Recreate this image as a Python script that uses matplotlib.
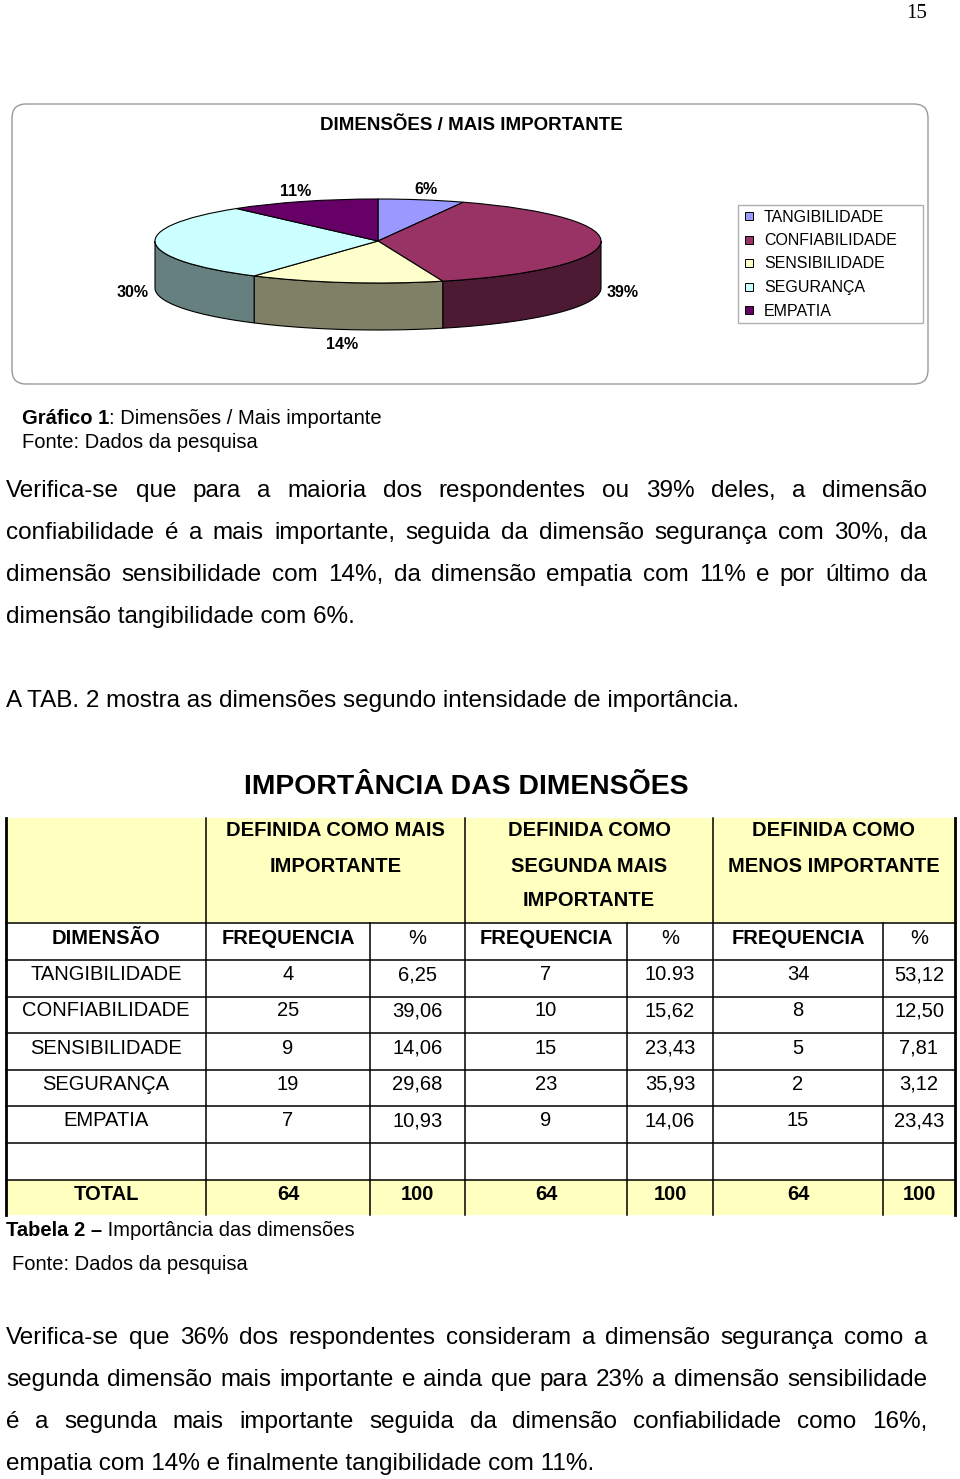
import numpy as np
import matplotlib
matplotlib.use('Agg')
import matplotlib.pyplot as plt
from matplotlib.patches import Rectangle, FancyBboxPatch, Polygon

plt.rcParams['font.family'] = ['Liberation Sans', 'DejaVu Sans']

# ---- data ----
dims = ['TANGIBILIDADE', 'CONFIABILIDADE', 'SENSIBILIDADE', 'SEGURANÇA', 'EMPATIA']
freq_mais = [4, 25, 9, 19, 7]
pct_mais = ['6,25', '39,06', '14,06', '29,68', '10,93']
freq_segunda = [7, 10, 15, 23, 9]
pct_segunda = ['10.93', '15,62', '23,43', '35,93', '14,06']
freq_menos = [34, 8, 5, 2, 15]
pct_menos = ['53,12', '12,50', '7,81', '3,12', '23,43']
totals = ['64', '100', '64', '100', '64', '100']

pie_colors = ['#9999FF', '#993366', '#FFFFCC', '#CCFFFF', '#660066']

par1 = [
    "Verifica-se que para a maioria dos respondentes ou 39% deles, a dimensão",
    "confiabilidade é a mais importante, seguida da dimensão segurança com 30%, da",
    "dimensão sensibilidade com 14%, da dimensão empatia com 11% e por último da",
    "dimensão tangibilidade com 6%.",
]
par2 = [
    "Verifica-se que 36% dos respondentes consideram a dimensão segurança como a",
    "segunda dimensão mais importante e ainda que para 23% a dimensão sensibilidade",
    "é a segunda mais importante seguida da dimensão confiabilidade como 16%,",
    "empatia com 14% e finalmente tangibilidade com 11%.",
]

W, H = 960, 1479
DY = 2  # va='center' sits a little high for caps, nudge down
fig = plt.figure(figsize=(W / 100, H / 100), dpi=100)
ax = fig.add_axes([0, 0, 1, 1])
ax.set_xlim(0, W)
ax.set_ylim(H, 0)
ax.axis('off')
renderer = fig.canvas.get_renderer()


def T(x, y, s, **kw):
    kw.setdefault('va', 'center')
    return ax.text(x, y + DY, s, **kw)


def text_w(s, **kw):
    t = ax.text(0, 0, s, **kw)
    w = t.get_window_extent(renderer).width
    t.remove()
    return w


def justify(lines, y0, step, x0=6, x1=927, fs=17.5):
    for i, line in enumerate(lines):
        y = y0 + i * step
        words = line.split()
        if i == len(lines) - 1:
            T(x0, y, line, fontsize=fs, ha='left')
            continue
        ws = [text_w(w, fontsize=fs) for w in words]
        gap = (x1 - x0 - sum(ws)) / (len(words) - 1)
        x = x0
        for w, wd in zip(words, ws):
            T(x, y, w, fontsize=fs, ha='left')
            x += wd + gap


def mixed(x, y, bold, rest, fs=14.5):
    T(x, y, bold, fontsize=fs, fontweight='bold', ha='left')
    T(x + text_w(bold, fontsize=fs, fontweight='bold'), y, rest, fontsize=fs, ha='left')


# page number
T(927, 11, '15', fontsize=15, family='Liberation Serif', ha='right')

# ---- chart box ----
ax.add_patch(FancyBboxPatch((12, 104), 916, 280, boxstyle='round,pad=0,rounding_size=14',
                            fc='white', ec='#9a9a9a', lw=1))
T(471, 123, 'DIMENSÕES / MAIS IMPORTANTE', fontsize=13.5, fontweight='bold', ha='center')

# ---- 3D-looking pie ----
cx, cy, a, b = 378, 241, 223, 42
xl, yl = (-1.5, 1.5), (-2.8, 1.6)
pw, ph = (xl[1] - xl[0]) * a, (yl[1] - yl[0]) * b
ax_pie = fig.add_axes([(cx + xl[0] * a) / W, 1 - (cy - yl[0] * b) / H, pw / W, ph / H])
ax_pie.patch.set_visible(False)

total = sum(freq_mais)
bounds = 90 - 360 * np.concatenate([[0], np.cumsum(freq_mais)]) / total
depth = 47 / b
for i in range(len(freq_mais)):
    lo, hi = bounds[i + 1], bounds[i]
    side = tuple(0.5 * c for c in matplotlib.colors.to_rgb(pie_colors[i]))
    for k in (-1, 0, 1):
        s0, s1 = max(lo, -180 + 360 * k), min(hi, 360 * k)
        if s1 > s0:
            t = np.radians(np.linspace(s0, s1, 80))
            xs, ys = np.cos(t), np.sin(t)
            pts = np.column_stack([np.r_[xs, xs[::-1]], np.r_[ys, ys[::-1] - depth]])
            ax_pie.add_patch(Polygon(pts, closed=True, fc=side, ec='black', lw=0.8, zorder=1))

wedges, _ = ax_pie.pie(freq_mais, colors=pie_colors, startangle=90, counterclock=False,
                       wedgeprops=dict(edgecolor='black', linewidth=0.8, zorder=2))
ax_pie.set_aspect('auto')
ax_pie.set_xlim(*xl)
ax_pie.set_ylim(*yl)
ax_pie.axis('off')

for i, f in enumerate(freq_mais):
    m = np.radians((bounds[i] + bounds[i + 1]) / 2)
    lx = 1.1 * np.cos(m)
    ly = 1.3 * np.sin(m) if np.sin(m) > 0 else 1.3 * np.sin(m) - depth
    ax_pie.text(lx, ly - 0.05, f'{round(100 * f / total)}%', fontsize=11.5, fontweight='bold',
                ha='center', va='center', clip_on=False)

# legend
ax.add_patch(Rectangle((738, 205), 185, 118, fc='white', ec='#b0b0b0', lw=1))
for i, name in enumerate(dims):
    y = 216 + i * 23.5
    ax.add_patch(Rectangle((745, y - 4), 8, 8, fc=pie_colors[i], ec='black', lw=0.7))
    T(764, y - 1, name, fontsize=11.5, ha='left')

# captions
mixed(22, 416, 'Gráfico 1', ': Dimensões / Mais importante')
T(22, 440, 'Fonte: Dados da pesquisa', fontsize=14.5, ha='left')

justify(par1, 489, 42)
T(6, 699, 'A TAB. 2 mostra as dimensões segundo intensidade de importância.',
  fontsize=17.5, ha='left')

# ---- table ----
T(466, 785, 'IMPORTÂNCIA DAS DIMENSÕES', fontsize=20.4, fontweight='bold', ha='center')

cols = [6, 206, 370, 465, 627, 713, 883, 955]
centers = [(cols[i] + cols[i + 1]) / 2 for i in range(len(cols) - 1)]
yellow = '#FFFFC0'
ax.add_patch(Rectangle((6, 818), 949, 105, fc=yellow, ec='none'))
ax.add_patch(Rectangle((6, 1180), 949, 35, fc=yellow, ec='none'))

lw = 1.1
for x in [206, 465, 713]:
    ax.plot([x, x], [818, 1215], color='black', lw=lw)
for x in [370, 627, 883]:
    ax.plot([x, x], [923, 1215], color='black', lw=lw)
for x in [6, 955]:
    ax.plot([x, x], [818, 1215], color='black', lw=2)
for y in [923, 960, 997, 1033, 1070, 1106, 1143, 1180]:
    ax.plot([6, 955], [y, y], color='black', lw=lw)

fs_t = 14.5
groups = [('DEFINIDA COMO MAIS', 'IMPORTANTE'),
          ('DEFINIDA COMO', 'SEGUNDA MAIS', 'IMPORTANTE'),
          ('DEFINIDA COMO', 'MENOS IMPORTANTE')]
gx = [(206 + 465) / 2, (465 + 713) / 2, (713 + 955) / 2]
for g, x in zip(groups, gx):
    for j, line in enumerate(g):
        T(x, 829 + 35 * j, line, fontsize=fs_t, fontweight='bold', ha='center')

heads = ['DIMENSÃO', 'FREQUENCIA', '%', 'FREQUENCIA', '%', 'FREQUENCIA', '%']
for h, x in zip(heads, centers):
    T(x, 936, h, fontsize=fs_t, fontweight='normal' if h == '%' else 'bold', ha='center')

row_y = [973, 1009, 1046, 1082, 1119]
for r in range(len(dims)):
    vals = [dims[r], freq_mais[r], pct_mais[r], freq_segunda[r], pct_segunda[r],
            freq_menos[r], pct_menos[r]]
    for v, x in zip(vals, centers):
        T(x, row_y[r], str(v), fontsize=fs_t, ha='center')

for v, x in zip(['TOTAL'] + totals, centers):
    T(x, 1192, v, fontsize=fs_t, fontweight='bold', ha='center')

mixed(6, 1228, 'Tabela 2 –', ' Importância das dimensões')
T(12, 1263, 'Fonte: Dados da pesquisa', fontsize=14.5, ha='left')

justify(par2, 1336, 42)

fig.savefig('out.png', dpi=100)
